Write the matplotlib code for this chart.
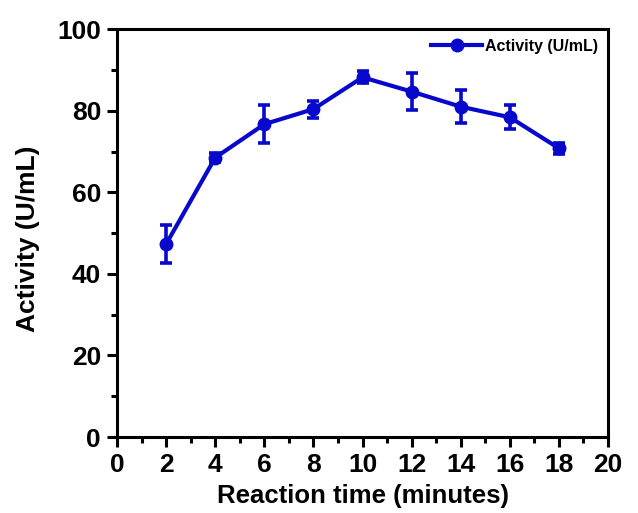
import matplotlib
matplotlib.use("Agg")
import matplotlib.pyplot as plt
from matplotlib.ticker import MultipleLocator

# reaction time (minutes) and activity (U/mL) with error bars
time_min = [2, 4, 6, 8, 10, 12, 14, 16, 18]
activity = [47.3, 68.5, 76.7, 80.4, 88.2, 84.7, 81.0, 78.4, 70.8]
activity_err = [4.7, 1.1, 4.7, 2.1, 1.5, 4.6, 4.0, 2.9, 1.3]

plt.rcParams['font.family'] = ['Liberation Sans', 'DejaVu Sans']
plt.rcParams['font.weight'] = 'bold'

fig = plt.figure(figsize=(6.38, 5.13), dpi=100)
ax = fig.add_axes([0.1834, 0.1481, 0.7696, 0.795])

color = '#0808cc'
ax.errorbar(time_min, activity, yerr=activity_err, fmt='none', ecolor=color,
            elinewidth=2.6, capsize=4, capthick=2.6)
ax.plot(time_min, activity, color=color, lw=3, marker='o', ms=9,
        label='Activity (U/mL)')

ax.set_xlim(0, 20)
ax.set_ylim(0, 100)
ax.xaxis.set_major_locator(MultipleLocator(2))
ax.xaxis.set_minor_locator(MultipleLocator(1))
ax.yaxis.set_major_locator(MultipleLocator(20))
ax.yaxis.set_minor_locator(MultipleLocator(10))

for s in ax.spines.values():
    s.set_linewidth(2.2)
ax.tick_params(which='major', direction='out', length=7, width=2.2,
               labelsize=19, pad=4.5)
ax.tick_params(which='minor', direction='out', length=4, width=2.2)
for lab in ax.get_xticklabels() + ax.get_yticklabels():
    lab.set_fontweight('bold')

ax.set_xlabel('Reaction time (minutes)', fontsize=18.5, fontweight='bold', labelpad=5)
ax.set_ylabel('Activity (U/mL)', fontsize=19, fontweight='bold')
ax.yaxis.set_label_coords(-0.157, 0.485)

ax.legend(loc='upper right', frameon=False, handlelength=3.2,
          handletextpad=0.2, borderaxespad=0.2,
          prop={'weight': 'bold', 'size': 11.5})

fig.savefig('out.png', dpi=100)
